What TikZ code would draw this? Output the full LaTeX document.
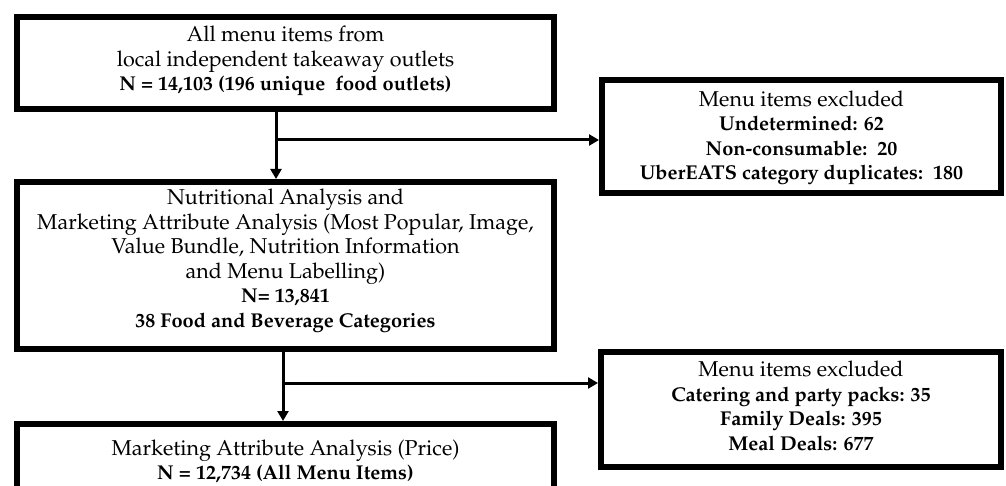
\documentclass[tikz,border=0pt]{standalone}
\usepackage[T1]{fontenc}
\renewcommand{\rmdefault}{ppl}
\usetikzlibrary{arrows.meta}
\newcommand{\bt}[1]{{\fontsize{20}{24.5}\selectfont\bfseries #1}}
\begin{document}
\begin{tikzpicture}[x=1pt,y=-1pt,
  box/.style={draw=black,line width=6pt,fill=white,inner sep=0pt},
  txt/.style={align=center,font=\fontsize{21.5}{24.5}\selectfont,inner sep=0pt},
  arr/.style={line width=3pt,-{Triangle[length=10pt,width=11pt]}}]
\useasboundingbox (0,0) rectangle (1006,486);
\clip (0,0) rectangle (1006,486);
% boxes
\node[box,minimum width=537pt,minimum height=92pt] (b1) at (285.5,63) {};
\node[box,minimum width=537pt,minimum height=167pt] (b2) at (285.5,265.5) {};
\node[box,minimum width=537pt,minimum height=120pt] (b3) at (285.5,484) {};
\node[box,minimum width=399pt,minimum height=113pt] (e1) at (801.5,136.5) {};
\node[box,minimum width=400pt,minimum height=115pt] (e2) at (801,409.5) {};
% texts
\node[txt] (t1) at (285.5,61) {All menu items from\\local independent takeaway outlets\\\bt{N = 14,103 (196 unique\ \ food outlets)}};
\node[txt] (t2) at (285.5,261) {Nutritional Analysis and\\Marketing Attribute Analysis (Most Popular, Image,\\Value Bundle, Nutrition Information\\and Menu Labelling)\\\bt{N= 13,841}\\\bt{38 Food and Beverage Categories}};
\node[txt] (t3) at (285.5,461.5) {Marketing Attribute Analysis (Price)\\\bt{N = 12,734 (All Menu Items)}};
\node[txt] (t4) at (801.5,138) {Menu items excluded\\\bt{Undetermined: 62}\\\bt{Non-consumable:\ \ 20}\\\bt{UberEATS category duplicates:\ \ 180}};
\node[txt] (t5) at (801,406) {Menu items excluded\\\bt{Catering and party packs: 35}\\\bt{Family Deals: 395}\\\bt{Meal Deals: 677}};
% connectors
\coordinate (j1) at (276,140);
\coordinate (j2) at (283,383);
\draw[arr] (b1.south -| j1) -- (b2.north -| j1);
\draw[arr] (j1) -- (j1 -| e1.west);
\draw[arr] (b2.south -| j2) -- (b3.north -| j2);
\draw[arr] (j2) -- (j2 -| e2.west);
\end{tikzpicture}
\end{document}
